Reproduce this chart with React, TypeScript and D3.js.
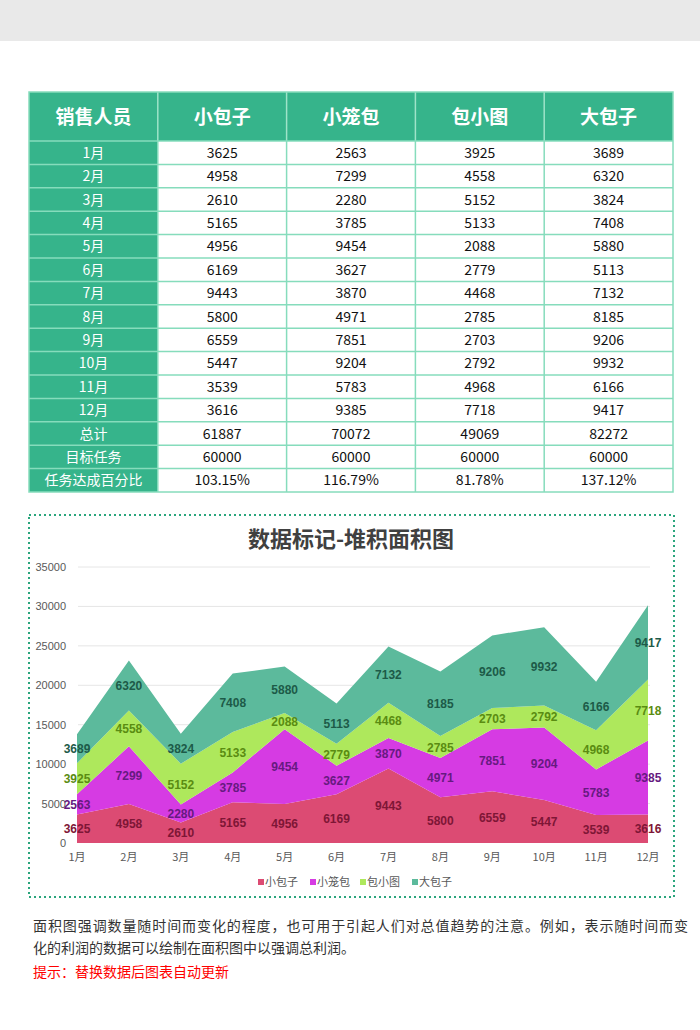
import React from "react";
import * as d3 from "d3";

const months = ["1月","2月","3月","4月","5月","6月","7月","8月","9月","10月","11月","12月"];
const seriesNames = ["小包子","小笼包","包小图","大包子"];
const xiaoBaozi = [3625,4958,2610,5165,4956,6169,9443,5800,6559,5447,3539,3616];
const xiaoLongbao = [2563,7299,2280,3785,9454,3627,3870,4971,7851,9204,5783,9385];
const baoXiaotu = [3925,4558,5152,5133,2088,2779,4468,2785,2703,2792,4968,7718];
const daBaozi = [3689,6320,3824,7408,5880,5113,7132,8185,9206,9932,6166,9417];
const totals = ["61887","70072","49069","82272"];
const targets = ["60000","60000","60000","60000"];
const percents = ["103.15%","116.79%","81.78%","137.12%"];
const yTicks = [0,5000,10000,15000,20000,25000,30000,35000];

const areaColors = ["#dc4b73","#d63be3","#aee85c","#5cba9c"];
const labelColors = ["#7e1636","#661a80","#5a8c12","#1d5a48"];

const FONT = "'Noto Sans CJK SC', 'Noto Sans', sans-serif";
const AX = "'Liberation Sans', Arial, sans-serif";

export default function App() {
  const W = 700, H = 1030;
  const series = [xiaoBaozi, xiaoLongbao, baoXiaotu, daBaozi];
  const rows = months.map((m, i) => {
    const r: any = { month: m };
    seriesNames.forEach((s, j) => (r[s] = series[j][i]));
    return r;
  });
  const stacked = d3.stack().keys(seriesNames)(rows);
  const x = d3.scalePoint().domain(months).range([77, 648]);
  const y = d3.scaleLinear().domain([0, 35000]).range([843, 567]);
  const area = d3.area<any>()
    .x((d: any) => x(d.data.month) as number)
    .y0((d: any) => y(d[0]))
    .y1((d: any) => y(d[1]));

  // table
  const tx0 = 29, tx1 = 673;
  const colW = (tx1 - tx0) / 5;
  const headY = 92, headH = 49;
  const rowH = 23.4;
  const tableRows: string[][] = [
    ...months.map((m, i) => [m, ...series.map((s) => String(s[i]))]),
    ["总计", ...totals],
    ["目标任务", ...targets],
    ["任务达成百分比", ...percents],
  ];
  const headers = ["销售人员", ...seriesNames];
  const green = "#36b48b";
  const border = "#86dcbc";

  return (
    <svg width={W} height={H} style={{ display: "block", position: "absolute", left: 0, top: 0 }}>
      <rect x={0} y={0} width={W} height={H} fill="#fff" />
      <rect x={0} y={0} width={W} height={41} fill="#e9e9e9" />

      {/* table */}
      <rect x={tx0} y={headY} width={tx1 - tx0} height={headH} fill={green} />
      {headers.map((h, i) => (
        <text key={h} x={tx0 + colW * (i + 0.5)} y={headY + headH / 2 + 7} textAnchor="middle"
          fill="#fff" fontFamily={FONT} fontWeight="bold" fontSize={19}>{h}</text>
      ))}
      {headers.slice(1).map((_, i) => (
        <line key={"hv" + i} x1={tx0 + colW * (i + 1)} x2={tx0 + colW * (i + 1)} y1={headY} y2={headY + headH}
          stroke="#9fe3c9" strokeWidth={1.5} />
      ))}
      {tableRows.map((r, ri) => {
        const yy = headY + headH + ri * rowH;
        return (
          <g key={"r" + ri}>
            <rect x={tx0} y={yy} width={colW} height={rowH} fill={green} />
            {r.map((c, ci) => (
              <text key={ci} x={tx0 + colW * (ci + 0.5)} y={yy + rowH / 2 + 5} textAnchor="middle"
                fill={ci === 0 ? "#fff" : "#111"} fontFamily={FONT} fontSize={14}>{c}</text>
            ))}
          </g>
        );
      })}
      {tableRows.map((_, ri) => (
        <line key={"hl" + ri} x1={tx0} x2={tx1} y1={headY + headH + ri * rowH} y2={headY + headH + ri * rowH}
          stroke={border} strokeWidth={1.5} />
      ))}
      {[1, 2, 3, 4].map((i) => (
        <line key={"vl" + i} x1={tx0 + colW * i} x2={tx0 + colW * i} y1={headY + headH}
          y2={headY + headH + tableRows.length * rowH} stroke={border} strokeWidth={1.5} />
      ))}
      <rect x={tx0} y={headY} width={tx1 - tx0} height={headH + tableRows.length * rowH}
        fill="none" stroke={border} strokeWidth={1.5} />

      {/* chart box */}
      <rect x={29} y={515} width={645} height={382} fill="none" stroke="#2aa57c" strokeWidth={2}
        strokeDasharray="2 3" />
      <text x={351} y={547} textAnchor="middle" fill="#404040" fontFamily={FONT} fontWeight="bold" fontSize={22}>
        数据标记-堆积面积图
      </text>
      {yTicks.map((t) => (
        <g key={t}>
          {t > 0 && <line x1={78} x2={650} y1={y(t)} y2={y(t)} stroke="#e6e6e6" strokeWidth={1} />}
          <text x={66} y={y(t) + 4} textAnchor="end" fill="#595959" fontFamily={AX} fontSize={11}>{t}</text>
        </g>
      ))}
      {stacked.map((s, i) => (
        <path key={s.key} d={area(s as any) || ""} fill={areaColors[i]} />
      ))}
      {stacked.map((s, i) =>
        s.map((d: any, j: number) => (
          <text key={s.key + j} x={x(d.data.month) as number} y={y((d[0] + d[1]) / 2) + 4.5} textAnchor="middle"
            fill={labelColors[i]} fontFamily={AX} fontWeight="bold" fontSize={12}>{series[i][j]}</text>
        ))
      )}
      {months.map((m) => (
        <text key={m} x={x(m) as number} y={861} textAnchor="middle" fill="#595959" fontFamily={FONT} fontSize={11}>{m}</text>
      ))}
      {seriesNames.map((n, i) => {
        const lx = [258, 310, 360, 412][i];
        return (
          <g key={n}>
            <rect x={lx} y={879} width={6} height={6} fill={areaColors[i]} />
            <text x={lx + 7} y={886} fill="#595959" fontFamily={FONT} fontSize={11}>{n}</text>
          </g>
        );
      })}

      {/* notes */}
      <text x={33} y={931} fill="#333" fontFamily={FONT} fontSize={14} textLength={655} lengthAdjust="spacing">
        面积图强调数量随时间而变化的程度，也可用于引起人们对总值趋势的注意。例如，表示随时间而变
      </text>
      <text x={33} y={953} fill="#333" fontFamily={FONT} fontSize={14}>
        化的利润的数据可以绘制在面积图中以强调总利润。
      </text>
      <text x={33} y={977} fill="#f00" fontFamily={FONT} fontSize={14}>
        提示：替换数据后图表自动更新
      </text>
    </svg>
  );
}
